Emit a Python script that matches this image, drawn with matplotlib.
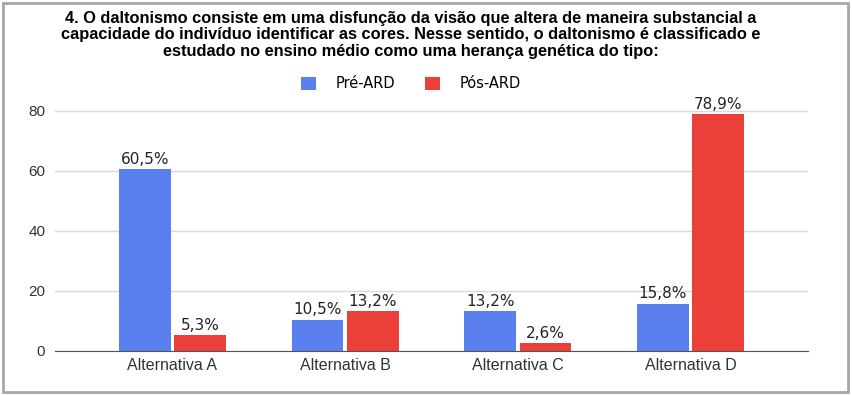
import matplotlib.pyplot as plt
import numpy as np
from matplotlib.patches import Rectangle

categorias = ['Alternativa A', 'Alternativa B', 'Alternativa C', 'Alternativa D']
pre_ard = [60.5, 10.5, 13.2, 15.8]
pos_ard = [5.3, 13.2, 2.6, 78.9]
rotulos_pre = ['60,5%', '10,5%', '13,2%', '15,8%']
rotulos_pos = ['5,3%', '13,2%', '2,6%', '78,9%']

titulo = ('4. O daltonismo consiste em uma disfunção da visão que altera de maneira substancial a\n'
          'capacidade do indivíduo identificar as cores. Nesse sentido, o daltonismo é classificado e\n'
          'estudado no ensino médio como uma herança genética do tipo:')

azul = '#5A7FEE'
vermelho = '#EA4039'

fig = plt.figure(figsize=(8.52, 3.95), dpi=100)
ax = fig.add_axes([55/852, 1 - 351/395, (808-55)/852, (351-111)/395 * 100/80])

x = np.arange(len(categorias))
w = 0.30
b1 = ax.bar(x - 0.16, pre_ard, w, color=azul, label='Pré-ARD', zorder=3)
b2 = ax.bar(x + 0.16, pos_ard, w, color=vermelho, label='Pós-ARD', zorder=3)

for barras, rot in ((b1, rotulos_pre), (b2, rotulos_pos)):
    for b, r in zip(barras, rot):
        ax.text(b.get_x() + b.get_width()/2, b.get_height() + 0.8, r,
                ha='center', va='bottom', fontsize=11, family='DejaVu Sans', color='#222222')

ax.set_xlim(-0.68, 3.68)
ax.set_ylim(0, 100)
ax.set_yticks([0, 20, 40, 60, 80])
ax.set_xticks(x)
ax.set_xticklabels(categorias, family='Liberation Sans', fontsize=11.5, color='#333333')
for t in ax.get_yticklabels():
    t.set_family('Liberation Sans')
    t.set_fontsize(11)
    t.set_color('#333333')
ax.tick_params(length=0, pad=5)
ax.tick_params(axis='y', pad=7)
ax.grid(axis='y', color='#D9D9D9', linewidth=1, zorder=0)
for s in ['top', 'right', 'left']:
    ax.spines[s].set_visible(False)
ax.spines['bottom'].set_color('#555555')
ax.spines['bottom'].set_zorder(4)

fig.text(411/852, 1 - 11/395, titulo, ha='center', va='top', fontsize=11.8,
         fontweight='bold', family='Liberation Sans', linespacing=1.12)

leg = fig.legend(handles=[b1, b2], loc='center', bbox_to_anchor=(411/852, 1 - 84/395),
                 ncol=2, frameon=False, handlelength=1.0, handleheight=1.0,
                 columnspacing=2.05, handletextpad=1.35, prop={'family': 'DejaVu Sans', 'size': 10.5})

fig.add_artist(Rectangle((3/852, 3/395), 845/852, 389/395, transform=fig.transFigure,
                         fill=False, edgecolor='#A6A6A6', linewidth=2))

plt.savefig('out.png', dpi=100)
